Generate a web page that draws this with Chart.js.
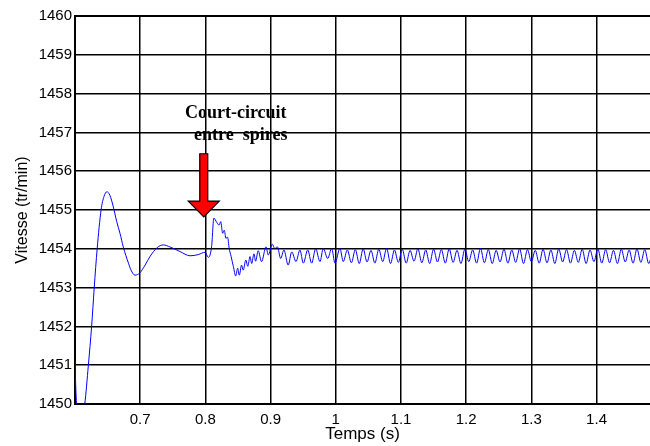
<!DOCTYPE html>
<html>
<head>
<meta charset="utf-8">
<script src="https://cdn.jsdelivr.net/npm/chart.js@4/dist/chart.umd.min.js"></script>
<style>
  html, body { margin: 0; padding: 0; background: #fff; }
</style>
</head>
<body>
<canvas id="speedChart" width="650" height="446"></canvas>
<script>
// temps (s) et vitesse (tr/min)
const timeValues = [
  0.600, 0.6015, 0.6045, 0.6105, 0.615, 0.6205, 0.6255, 0.6295, 0.634, 0.640,
  0.6445, 0.649, 0.6535, 0.6585, 0.664, 0.669, 0.674, 0.682, 0.686, 0.692,
  0.6995, 0.7075, 0.715, 0.726, 0.7355, 0.7455, 0.761, 0.7765, 0.789, 0.7995,
  0.8045, 0.8095, 0.813, 0.8175, 0.821, 0.8235, 0.8265, 0.829, 0.8315, 0.834,
  0.8365, 0.8395, 0.843, 0.8465, 0.8495, 0.852, 0.8555, 0.858, 0.862, 0.865,
  0.8685, 0.871, 0.8745, 0.877, 0.881, 0.8862, 0.893, 0.8965, 0.9025, 0.9065,
  0.9105, 0.9155, 0.9205, 0.927, 0.9325, 0.939, 0.945, 0.9502, 0.957, 0.963,
  0.9692, 0.9758, 0.9808, 0.9876, 0.9937, 0.9988, 1.0064, 1.0115, 1.0177,
  1.024, 1.030, 1.036, 1.042, 1.048, 1.054, 1.060, 1.066, 1.072, 1.078,
  1.084, 1.090, 1.096, 1.102, 1.108, 1.114, 1.120, 1.126, 1.132, 1.138,
  1.144, 1.150, 1.156, 1.162, 1.168, 1.174, 1.180, 1.186, 1.192, 1.198,
  1.204, 1.210, 1.216, 1.222, 1.228, 1.234, 1.240, 1.246, 1.252, 1.258,
  1.264, 1.270, 1.276, 1.282, 1.288, 1.294, 1.300, 1.306, 1.312, 1.318,
  1.324, 1.330, 1.336, 1.342, 1.348, 1.354, 1.360, 1.366, 1.372, 1.378,
  1.384, 1.390, 1.396, 1.402, 1.408, 1.414, 1.420, 1.426, 1.432, 1.438,
  1.444, 1.450, 1.456, 1.462, 1.468, 1.474, 1.480, 1.486
];
const speedValues = [
  1451.10, 1450.30, 1449.60, 1449.60, 1450.00, 1451.00, 1452.00, 1453.00, 1454.00, 1455.00,
  1455.35, 1455.47, 1455.38, 1455.10, 1454.70, 1454.40, 1454.05, 1453.63, 1453.45, 1453.32,
  1453.38, 1453.58, 1453.80, 1454.03, 1454.10, 1454.05, 1453.93, 1453.82, 1453.85, 1453.91,
  1453.78, 1454.05, 1454.79, 1454.68, 1454.61, 1454.70, 1454.40, 1454.48, 1454.27, 1454.30,
  1454.01, 1453.80, 1453.54, 1453.30, 1453.50, 1453.32, 1453.58, 1453.45, 1453.71, 1453.55,
  1453.80, 1453.62, 1453.87, 1453.68, 1453.95, 1453.67, 1454.05, 1453.84, 1454.12, 1454.01,
  1454.05, 1453.75, 1453.97, 1453.58, 1453.92, 1453.67, 1453.97, 1453.63, 1453.97, 1453.63,
  1454.00, 1453.67, 1454.01, 1453.75, 1454.01, 1453.63, 1454.01, 1453.67, 1453.97,
  1453.64, 1453.98, 1453.62, 1454.00, 1453.66, 1453.96, 1453.63, 1453.99, 1453.67, 1454.01,
  1453.62, 1453.97, 1453.65, 1453.99, 1453.63, 1453.96, 1453.68, 1454.00, 1453.64, 1453.97,
  1453.62, 1453.99, 1453.66, 1453.98, 1453.63, 1454.00, 1453.65, 1453.96, 1453.62, 1453.99,
  1453.67, 1453.97, 1453.63, 1454.01, 1453.64, 1453.98, 1453.62, 1453.96, 1453.66, 1453.99,
  1453.63, 1453.97, 1453.65, 1454.00, 1453.62, 1453.98, 1453.67, 1453.96, 1453.63, 1453.99,
  1453.64, 1453.97, 1453.62, 1454.00, 1453.66, 1453.98, 1453.63, 1453.96, 1453.65, 1453.99,
  1453.62, 1453.97, 1453.67, 1454.00, 1453.63, 1453.98, 1453.64, 1453.96, 1453.62, 1453.99,
  1453.66, 1453.97, 1453.63, 1454.00, 1453.65, 1453.98, 1453.62, 1453.97
];

const xTickValues = [0.7, 0.8, 0.9, 1, 1.1, 1.2, 1.3, 1.4];
const yTickValues = [1450, 1451, 1452, 1453, 1454, 1455, 1456, 1457, 1458, 1459, 1460];
const xRange = [0.6, 1.482];
const yRange = [1450, 1460];

// flèche du défaut
const faultTime = 0.7975;
const arrowTop = 1456.45;
const arrowHeadBase = 1455.23;
const arrowTip = 1454.82;
const faultLabel = ['Court-circuit', 'entre  spires'];

const sansFont = '"Liberation Sans", Arial, sans-serif';

const faultArrow = {
  id: 'faultArrow',
  afterDatasetsDraw(chart) {
    const { ctx, scales: { x, y } } = chart;
    const cx = x.getPixelForValue(faultTime);
    const yTop = y.getPixelForValue(arrowTop);
    const yBase = y.getPixelForValue(arrowHeadBase);
    const yTip = y.getPixelForValue(arrowTip);
    ctx.save();
    ctx.beginPath();
    ctx.moveTo(cx - 4, yTop);
    ctx.lineTo(cx + 4, yTop);
    ctx.lineTo(cx + 4, yBase);
    ctx.lineTo(cx + 15.5, yBase);
    ctx.lineTo(cx, yTip);
    ctx.lineTo(cx - 15.5, yBase);
    ctx.lineTo(cx - 4, yBase);
    ctx.closePath();
    ctx.fillStyle = '#ff0000';
    ctx.fill();
    ctx.strokeStyle = '#000';
    ctx.lineWidth = 1.2;
    ctx.stroke();
    ctx.font = 'bold 18px "Liberation Serif", "Times New Roman", serif';
    ctx.fillStyle = '#000';
    ctx.textAlign = 'center';
    ctx.textBaseline = 'alphabetic';
    ctx.fillText(faultLabel[0], cx + 32, yTop - 36);
    ctx.fillText(faultLabel[1], cx + 37, yTop - 14);
    ctx.restore();
  }
};

const ctx = document.getElementById('speedChart').getContext('2d');
const chart = new Chart(ctx, {
  type: 'line',
  data: {
    datasets: [{
      data: timeValues.map((t, i) => ({ x: t, y: speedValues[i] })),
      borderColor: '#0000ff',
      borderWidth: 1,
      pointRadius: 0,
      fill: false,
      cubicInterpolationMode: 'monotone'
    }]
  },
  options: {
    responsive: false,
    animation: false,
    layout: { padding: { top: 16, right: 0, bottom: 0, left: 0 } },
    plugins: { legend: { display: false }, tooltip: { enabled: false } },
    scales: {
      x: {
        type: 'linear',
        min: xRange[0],
        max: xRange[1],
        afterBuildTicks: s => { s.ticks = xTickValues.map(v => ({ value: v })); },
        afterFit: s => { s.height = 42; },
        ticks: {
          autoSkip: false, maxRotation: 0, padding: 7, color: '#000',
          font: { family: sansFont, size: 15 },
          callback: v => String(v)
        },
        grid: { color: '#000', lineWidth: 1.5, drawTicks: false },
        border: { display: true, color: '#000', width: 2 },
        title: {
          display: true, text: 'Temps (s)', color: '#000',
          font: { family: sansFont, size: 17 },
          padding: { top: 0, bottom: 1 }
        }
      },
      y: {
        min: yRange[0],
        max: yRange[1],
        afterBuildTicks: s => { s.ticks = yTickValues.map(v => ({ value: v })); },
        afterFit: s => { s.width = 75; },
        ticks: {
          padding: 3, color: '#000',
          font: { family: sansFont, size: 15 },
          callback: v => String(v)
        },
        grid: {
          color: '#000',
          lineWidth: c => (c.tick && c.tick.value === 1460 ? 2 : 1.5),
          drawTicks: false
        },
        border: { display: true, color: '#000', width: 2 },
        title: {
          display: true, text: 'Vitesse (tr/min)', color: '#000',
          font: { family: sansFont, size: 16 },
          padding: { top: 13, bottom: 0 }
        }
      }
    }
  },
  plugins: [faultArrow]
});
</script>
</body>
</html>
